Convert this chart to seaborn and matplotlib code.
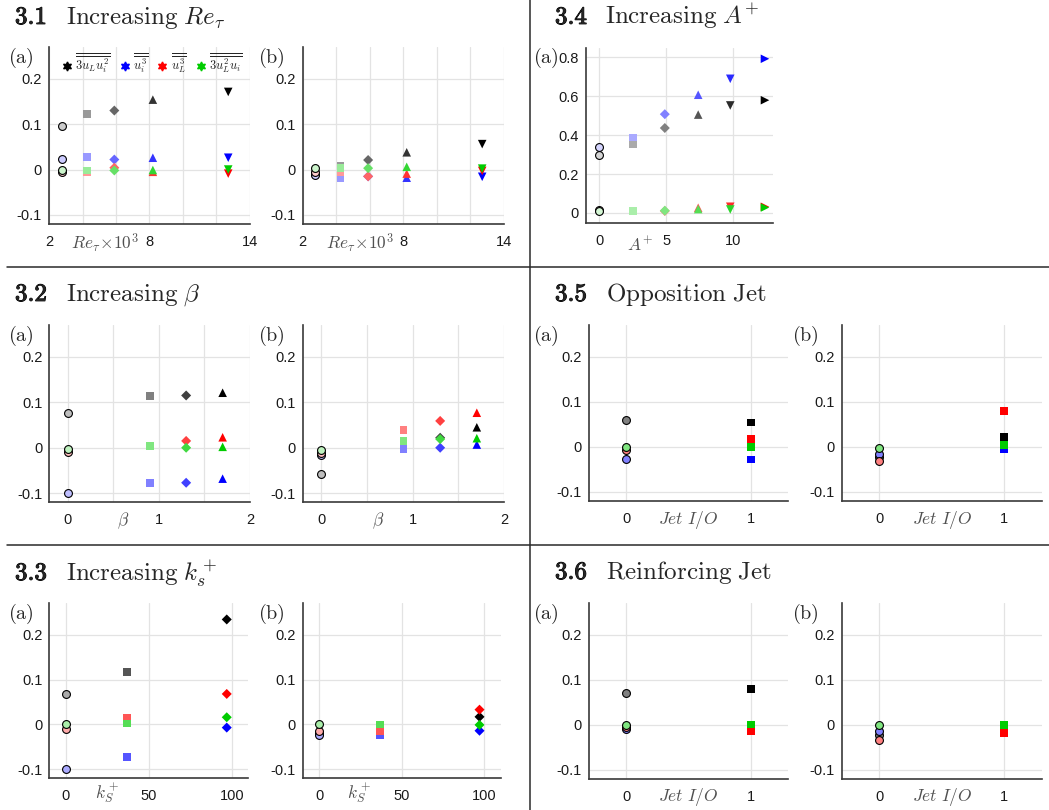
import matplotlib
matplotlib.use("Agg")
import matplotlib.pyplot as plt
from matplotlib.lines import Line2D
import matplotlib.patheffects as pe
import numpy as np
import pandas as pd
import seaborn as sns

W, H = 1049, 810

# marker per case (one shape per parameter value), colour per quantity
case_markers = ['o', 's', 'D', '^', 'v', '>']
marker_size = {'o': 32, 's': 32, 'D': 26, '^': 38, 'v': 38, '>': 38}
quantities = ['3uLui2', 'ui3', 'uL3', '3uL2ui']
quantity_colors = {'3uLui2': (0, 0, 0), 'ui3': (0, 0, 1), 'uL3': (1, 0, 0), '3uL2ui': (0, 0.8, 0)}
legend_labels = [r'$\overline{\overline{3u_Lu_i^2}}$', r'$\overline{\overline{u_i^3}}$',
                 r'$\overline{\overline{u_L^3}}$', r'$\overline{\overline{3u_L^2u_i}}$']

# 3.1 Increasing Re_tau
re_x = [2.75, 4.25, 5.9, 8.2, 12.7]
re_a = {'3uLui2': [0.096, 0.122, 0.130, 0.154, 0.171],
        'ui3': [0.023, 0.028, 0.022, 0.026, 0.026],
        'uL3': [-0.006, -0.005, 0.004, -0.005, -0.009],
        '3uL2ui': [-0.001, -0.002, -0.002, -0.001, 0.0]}
re_b = {'3uLui2': [-0.010, 0.009, 0.021, 0.038, 0.056],
        'ui3': [-0.013, -0.018, -0.015, -0.018, -0.016],
        'uL3': [-0.005, -0.005, -0.015, -0.009, -0.003],
        '3uL2ui': [0.003, 0.004, 0.003, 0.006, 0.002]}

# 3.2 Increasing beta
beta_x = [0, 0.9, 1.3, 1.7]
beta_a = {'3uLui2': [0.077, 0.114, 0.115, 0.121],
          'ui3': [-0.100, -0.077, -0.077, -0.068],
          'uL3': [-0.009, 0.005, 0.015, 0.023],
          '3uL2ui': [-0.002, 0.004, 0.0, 0.002]}
beta_b = {'3uLui2': [-0.058, 0.0, 0.022, 0.045],
          'ui3': [-0.015, -0.002, 0.0, 0.007],
          'uL3': [-0.011, 0.039, 0.059, 0.077],
          '3uL2ui': [-0.006, 0.015, 0.019, 0.021]}

# 3.3 Increasing k_s+
ks_x = [0, 37, 97]
ks_a = {'3uLui2': [0.067, 0.116, 0.234],
        'ui3': [-0.100, -0.073, -0.007],
        'uL3': [-0.010, 0.014, 0.068],
        '3uL2ui': [0.001, 0.002, 0.016]}
ks_b = {'3uLui2': [-0.020, -0.010, 0.017],
        'ui3': [-0.024, -0.023, -0.014],
        'uL3': [-0.015, -0.015, 0.033],
        '3uL2ui': [0.001, 0.0, -0.001]}

# 3.4 Increasing A+
amp_x = [0, 2.5, 4.9, 7.4, 9.8, 12.4]
amp_a = {'3uLui2': [0.300, 0.355, 0.437, 0.506, 0.553, 0.580],
         'ui3': [0.338, 0.388, 0.508, 0.608, 0.690, 0.793],
         'uL3': [0.015, 0.012, 0.010, 0.027, 0.032, 0.032],
         '3uL2ui': [0.008, 0.012, 0.012, 0.020, 0.018, 0.028]}

# 3.5 Opposition jet
jet_x = [0, 1]
opp_a = {'3uLui2': [0.059, 0.054], 'ui3': [-0.027, -0.028],
         'uL3': [-0.008, 0.018], '3uL2ui': [-0.001, 0.0]}
opp_b = {'3uLui2': [-0.022, 0.021], 'ui3': [-0.016, -0.005],
         'uL3': [-0.031, 0.080], '3uL2ui': [-0.002, 0.004]}

# 3.6 Reinforcing jet
rei_a = {'3uLui2': [0.070, 0.079], 'ui3': [-0.009, -0.006],
         'uL3': [-0.005, -0.013], '3uL2ui': [0.0, 0.001]}
rei_b = {'3uLui2': [-0.022, -0.009], 'ui3': [-0.013, -0.007],
         'uL3': [-0.033, -0.018], '3uL2ui': [-0.001, 0.0]}

small_yticks = [-0.1, 0, 0.1, 0.2]
small_ylabels = ['-0.1', '0', '0.1', '0.2']
small_ylim = (-0.12, 0.27)

re_label = r'$Re_\tau\!\times\!10^3$'
jet_label = r'$Jet\ I/O$'

panels = [
    dict(box=(49, 47, 250, 224), x=re_x, data=re_a, xlim=(2, 14), xticks=list(range(2, 15, 2)),
         xlabels=['2', '', '', '8', '', '', '14'], letter='(a)', lxy=(8, 46),
         xlab=re_label, xlxy=(105, 243), legend=True),
    dict(box=(302.7, 47, 504, 224), x=re_x, data=re_b, xlim=(2, 14), xticks=list(range(2, 15, 2)),
         xlabels=['2', '', '', '8', '', '', '14'], letter='(b)', lxy=(258, 46),
         xlab=re_label, xlxy=(360, 243)),
    dict(box=(586, 47.7, 773, 222.7), x=amp_x, data=amp_a, xlim=(-1, 13), xticks=[0, 5, 10],
         xlabels=['0', '5', '10'], letter='(a)', lxy=(533, 46),
         xlab=r'$A^{+}$', xlxy=(640, 245), ylim=(-0.05, 0.85),
         yticks=[0, 0.2, 0.4, 0.6, 0.8], ylabels=['0', '0.2', '0.4', '0.6', '0.8']),
    dict(box=(49.3, 325, 250, 502.3), x=beta_x, data=beta_a, xlim=(-0.2, 2), xticks=[0, 0.5, 1, 1.5, 2],
         xlabels=['0', '', '1', '', '2'], letter='(a)', lxy=(8, 324),
         xlab=r'$\beta$', xlxy=(122.7, 521)),
    dict(box=(302.7, 325, 504.3, 502.3), x=beta_x, data=beta_b, xlim=(-0.2, 2), xticks=[0, 0.5, 1, 1.5, 2],
         xlabels=['0', '', '1', '', '2'], letter='(b)', lxy=(258, 324),
         xlab=r'$\beta$', xlxy=(377.7, 521)),
    dict(box=(49.3, 603.3, 248.3, 778.3), x=ks_x, data=ks_a, xlim=(-10, 110), xticks=[0, 50, 100],
         xlabels=['0', '50', '100'], letter='(a)', lxy=(8, 602),
         xlab=r'$k_S^+$', xlxy=(106.7, 793)),
    dict(box=(302.7, 603.3, 501, 778.3), x=ks_x, data=ks_b, xlim=(-10, 110), xticks=[0, 50, 100],
         xlabels=['0', '50', '100'], letter='(b)', lxy=(258, 602),
         xlab=r'$k_S^+$', xlxy=(359, 793)),
    dict(box=(588.7, 325, 788.3, 501), x=jet_x, data=opp_a, xlim=(-0.3, 1.3), xticks=[0, 1],
         xlabels=['0', '1'], letter='(a)', lxy=(533, 324), xlab=jet_label, xlxy=(688, 520)),
    dict(box=(842, 325, 1041.7, 501), x=jet_x, data=opp_b, xlim=(-0.3, 1.3), xticks=[0, 1],
         xlabels=['0', '1'], letter='(b)', lxy=(792, 324), xlab=jet_label, xlxy=(941.7, 520)),
    dict(box=(588.7, 603.3, 788.3, 779), x=jet_x, data=rei_a, xlim=(-0.3, 1.3), xticks=[0, 1],
         xlabels=['0', '1'], letter='(a)', lxy=(533, 602), xlab=jet_label, xlxy=(688, 797)),
    dict(box=(842, 603.3, 1041.7, 779), x=jet_x, data=rei_b, xlim=(-0.3, 1.3), xticks=[0, 1],
         xlabels=['0', '1'], letter='(b)', lxy=(792, 602), xlab=jet_label, xlxy=(941.7, 797)),
]

titles = [
    ('3.1', r'$\mathrm{Increasing}\ Re_\tau$', 15, 66, 24),
    ('3.2', r'$\mathrm{Increasing}\ \beta$', 15, 66, 301),
    ('3.3', r'$\mathrm{Increasing}\ k_s^+$', 15, 66, 580),
    ('3.4', r'$\mathrm{Increasing}\ A^{+}$', 555, 605, 24),
    ('3.5', r'$\mathrm{Opposition\ Jet}$', 555, 606, 301),
    ('3.6', r'$\mathrm{Reinforcing\ Jet}$', 555, 606, 579),
]

sns.set_style('white')
plt.rcParams['font.family'] = ['Liberation Sans', 'DejaVu Sans']
plt.rcParams['mathtext.fontset'] = 'cm'

fig = plt.figure(figsize=(W / 100, H / 100), dpi=100)


def fx(x):
    return x / W


def fy(y):
    return 1 - y / H


def faded(rgb, strength):
    # lighter shade of the base colour, drawn opaque (earlier cases are paler)
    return tuple(strength * c + (1 - strength) for c in rgb)


for p in panels:
    l, t, r, b = p['box']
    ax = fig.add_axes([fx(l), fy(b), (r - l) / W, (b - t) / H])
    n = len(p['x'])
    rows = []
    for i, xv in enumerate(p['x']):
        for q in quantities:
            rows.append(dict(x=xv, y=p['data'][q][i], case=i, q=q))
    df = pd.DataFrame(rows)
    for i in range(n):
        m = case_markers[i]
        strength = (i + 1) / n
        for q in quantities:
            sub = df[(df['case'] == i) & (df['q'] == q)]
            sns.scatterplot(data=sub, x='x', y='y', marker=m,
                            color=faded(quantity_colors[q], strength),
                            edgecolor='black' if m == 'o' else 'none',
                            linewidth=0.8, s=marker_size[m], ax=ax, legend=False, zorder=3)
    ax.set_xlim(*p['xlim'])
    ax.set_ylim(*p.get('ylim', small_ylim))
    ax.set_xticks(p['xticks'])
    ax.set_xticklabels(p['xlabels'])
    ax.set_yticks(p.get('yticks', small_yticks))
    ax.set_yticklabels(p.get('ylabels', small_ylabels))
    ax.set_xlabel('')
    ax.set_ylabel('')
    ax.grid(True, color='#e3e3e3', linewidth=0.9)
    ax.set_axisbelow(True)
    for s in ['top', 'right']:
        ax.spines[s].set_visible(False)
    for s in ['left', 'bottom']:
        ax.spines[s].set_color('#3a3a3a')
        ax.spines[s].set_linewidth(1.2)
    ax.tick_params(length=0, labelsize=10.5, colors='#1a1a1a')
    ax.tick_params(axis='x', pad=8)
    ax.tick_params(axis='y', pad=5)
    fig.text(fx(p['lxy'][0]), fy(p['lxy'][1]), r'$\mathrm{' + p['letter'] + '}$',
             fontsize=14.5, ha='left', va='top')
    fig.text(fx(p['xlxy'][0]), fy(p['xlxy'][1]), p['xlab'], fontsize=12.5,
             color='#505050', ha='center', va='center')
    if p.get('legend'):
        handles = [Line2D([], [], marker=(6, 1, 0), linestyle='none', markersize=6.5,
                          color=quantity_colors[q]) for q in quantities]
        ax.legend(handles, legend_labels, loc='center', bbox_to_anchor=(0.51, 0.91),
                  ncol=4, frameon=False, handletextpad=0.2, columnspacing=0.6,
                  handlelength=1.0, fontsize=9, borderaxespad=0)

for num, rest, xn, xr, yb in titles:
    fig.text(fx(xn), fy(yb), r'$\mathbf{' + num + '}$', fontsize=18, ha='left', va='baseline',
             path_effects=[pe.withStroke(linewidth=0.7, foreground='black')])
    fig.text(fx(xr), fy(yb), rest, fontsize=18, ha='left', va='baseline')

# section dividers
line_kw = dict(color='#2a2a2a', linewidth=1.1)
fig.add_artist(Line2D([fx(530), fx(530)], [0, 1], **line_kw))
fig.add_artist(Line2D([fx(7), 1], [fy(267), fy(267)], **line_kw))
fig.add_artist(Line2D([fx(7), 1], [fy(545), fy(545)], **line_kw))

fig.savefig('out.png', dpi=100)
